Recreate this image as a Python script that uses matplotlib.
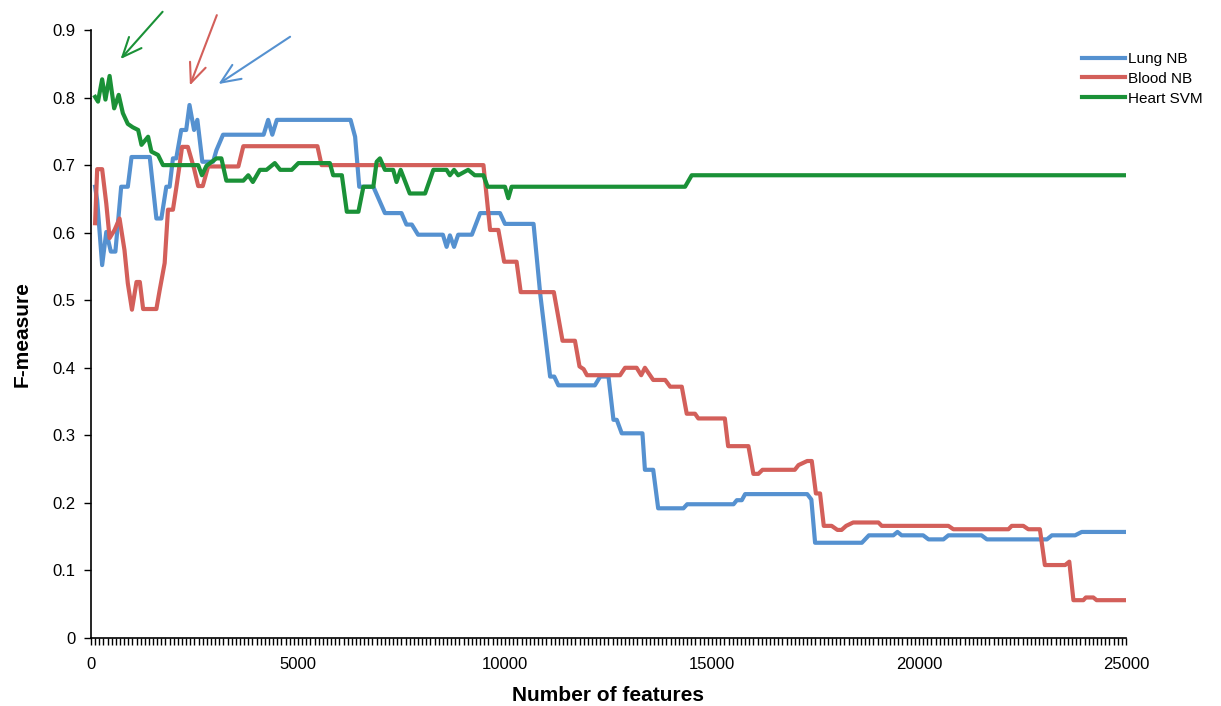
import matplotlib
matplotlib.use("Agg")
import matplotlib.pyplot as plt
from matplotlib.ticker import MultipleLocator, FuncFormatter

plt.rcParams['font.family'] = ['Liberation Sans', 'DejaVu Sans']

# values (number of features vs F-measure)
lung_x = [100, 150, 270, 370, 480, 590, 730, 890, 980, 1420, 1580, 1700, 1820, 1900,
          1980, 2060, 2180, 2300, 2380, 2490, 2570, 2690, 2950, 3030, 3190, 4170, 4280,
          4380, 4490, 6270, 6380, 6480, 6820, 7100, 7500, 7620, 7750, 7900, 8500, 8590,
          8670, 8770, 8870, 9200, 9400, 9880, 10000, 10690, 10850, 11090, 11190, 11290,
          12170, 12300, 12500, 12620, 12700, 12820, 13320, 13380, 13580, 13700, 14310,
          14400, 15520, 15600, 15720, 15800, 17300, 17400, 17490, 18620, 18790, 19380,
          19480, 19580, 20100, 20230, 20590, 20710, 21510, 21640, 23090, 23210, 23770,
          23930, 25000]
lung_y = [0.668, 0.648, 0.552, 0.601, 0.572, 0.572, 0.668, 0.668, 0.712, 0.712, 0.621,
          0.621, 0.668, 0.668, 0.71, 0.71, 0.752, 0.752, 0.789, 0.752, 0.767, 0.705, 0.705,
          0.722, 0.745, 0.745, 0.767, 0.745, 0.767, 0.767, 0.742, 0.668, 0.668, 0.629,
          0.629, 0.612, 0.612, 0.597, 0.597, 0.579, 0.596, 0.579, 0.597, 0.597, 0.629,
          0.629, 0.613, 0.613, 0.51, 0.387, 0.387, 0.374, 0.374, 0.387, 0.387, 0.323,
          0.323, 0.303, 0.303, 0.249, 0.249, 0.192, 0.192, 0.198, 0.198, 0.204, 0.204,
          0.213, 0.213, 0.205, 0.141, 0.141, 0.152, 0.152, 0.157, 0.152, 0.152, 0.146,
          0.146, 0.152, 0.152, 0.146, 0.146, 0.152, 0.152, 0.157, 0.157]

blood_x = [100, 150, 270, 370, 450, 570, 690, 810, 890, 990, 1100, 1180, 1260, 1580,
           1660, 1780, 1860, 1980, 2060, 2140, 2200, 2340, 2490, 2590, 2700, 2830, 3560,
           3680, 5470, 5570, 9480, 9640, 9840, 9980, 10280, 10380, 11180, 11390, 11690,
           11800, 11900, 11980, 12780, 12900, 13180, 13290, 13380, 13580, 13870, 13990,
           14270, 14390, 14590, 14670, 15310, 15390, 15880, 16000, 16120, 16220, 17000,
           17090, 17300, 17410, 17510, 17610, 17700, 17890, 18030, 18130, 18240, 18410,
           19020, 19100, 20710, 20830, 22160, 22240, 22520, 22640, 22920, 23040, 23530,
           23630, 23730, 23970, 24030, 24210, 24290, 25000]
blood_y = [0.614, 0.694, 0.694, 0.643, 0.592, 0.604, 0.621, 0.574, 0.525, 0.486, 0.527,
           0.527, 0.487, 0.487, 0.515, 0.555, 0.634, 0.634, 0.666, 0.70, 0.727, 0.727,
           0.695, 0.669, 0.669, 0.698, 0.698, 0.728, 0.728, 0.70, 0.70, 0.604, 0.604,
           0.557, 0.557, 0.512, 0.512, 0.44, 0.44, 0.402, 0.398, 0.389, 0.389, 0.40, 0.40,
           0.389, 0.40, 0.382, 0.382, 0.372, 0.372, 0.332, 0.332, 0.325, 0.325, 0.284,
           0.284, 0.243, 0.243, 0.249, 0.249, 0.256, 0.262, 0.262, 0.214, 0.214, 0.166,
           0.166, 0.160, 0.160, 0.166, 0.171, 0.171, 0.166, 0.166, 0.161, 0.161, 0.166,
           0.166, 0.161, 0.161, 0.108, 0.108, 0.113, 0.056, 0.056, 0.060, 0.060, 0.056,
           0.056]

heart_x = [100, 170, 270, 350, 450, 560, 670, 770, 890, 1010, 1140, 1220, 1380, 1460,
           1620, 1740, 2590, 2680, 2790, 3030, 3150, 3270, 3680, 3800, 3910, 4080, 4240,
           4440, 4570, 4850, 5010, 5770, 5850, 6060, 6180, 6460, 6580, 6820, 6900, 6980,
           7100, 7300, 7380, 7480, 7700, 8070, 8270, 8590, 8670, 8770, 8870, 9110, 9270,
           9480, 9580, 10000, 10080, 10160, 14350, 14510, 25000]
heart_y = [0.801, 0.794, 0.827, 0.797, 0.832, 0.784, 0.804, 0.777, 0.761, 0.756, 0.752,
           0.730, 0.742, 0.720, 0.715, 0.700, 0.700, 0.685, 0.699, 0.710, 0.710, 0.677,
           0.677, 0.685, 0.675, 0.693, 0.693, 0.703, 0.693, 0.693, 0.703, 0.703, 0.685,
           0.685, 0.631, 0.631, 0.668, 0.668, 0.705, 0.710, 0.693, 0.693, 0.675, 0.693,
           0.658, 0.658, 0.693, 0.693, 0.685, 0.693, 0.685, 0.693, 0.685, 0.685, 0.668,
           0.668, 0.651, 0.668, 0.668, 0.685, 0.685]

labels = ["Lung NB", "Blood NB", "Heart SVM"]
colors = ["#5591d0", "#d35f5a", "#1a9137"]

# arrows pointing at the best value of each series: (start, tip)
arrows = [((1730, 0.927), (715, 0.857), colors[2]),
          ((3040, 0.922), (2390, 0.818), colors[1]),
          ((4810, 0.890), (3080, 0.820), colors[0])]

fig = plt.figure(figsize=(12.21, 7.06), dpi=100)
ax = fig.add_axes([0.0745, 0.0963, 0.8477, 0.8612])

for xs, ys, lab, c in zip([lung_x, blood_x, heart_x], [lung_y, blood_y, heart_y],
                          labels, colors):
    ax.plot(xs, ys, color=c, lw=3, label=lab, solid_joinstyle='round')

for start, tip, c in arrows:
    ax.annotate("", xy=tip, xytext=start, annotation_clip=False,
                arrowprops=dict(arrowstyle="->,head_length=1.4,head_width=0.6",
                                color=c, lw=1.5, shrinkA=0, shrinkB=0))

ax.set_xlim(0, 25000)
ax.set_ylim(0, 0.9)
ax.xaxis.set_major_locator(MultipleLocator(5000))
ax.xaxis.set_minor_locator(MultipleLocator(100))
ax.yaxis.set_major_locator(MultipleLocator(0.1))
ax.yaxis.set_major_formatter(FuncFormatter(lambda v, p: "0" if abs(v) < 1e-9 else "%.1f" % v))
ax.tick_params(axis='x', which='both', direction='out', length=5, width=1,
               labelsize=12, pad=9)
ax.tick_params(axis='y', direction='out', length=5, width=1, labelsize=12, pad=6)
for s in ['top', 'right']:
    ax.spines[s].set_visible(False)
for s in ['left', 'bottom']:
    ax.spines[s].set_linewidth(1.2)

ax.set_xlabel("Number of features", fontsize=15, fontweight='bold', labelpad=10)
ax.set_ylabel("F-measure", fontsize=15, fontweight='bold', labelpad=15)

fig.legend(loc='upper left', bbox_to_anchor=(1082 / 1221, 1 - 52 / 706),
           frameon=False, fontsize=11, handlelength=2.8, handletextpad=0.2,
           labelspacing=0.38, borderpad=0, borderaxespad=0)

fig.savefig("out.png", dpi=100)
